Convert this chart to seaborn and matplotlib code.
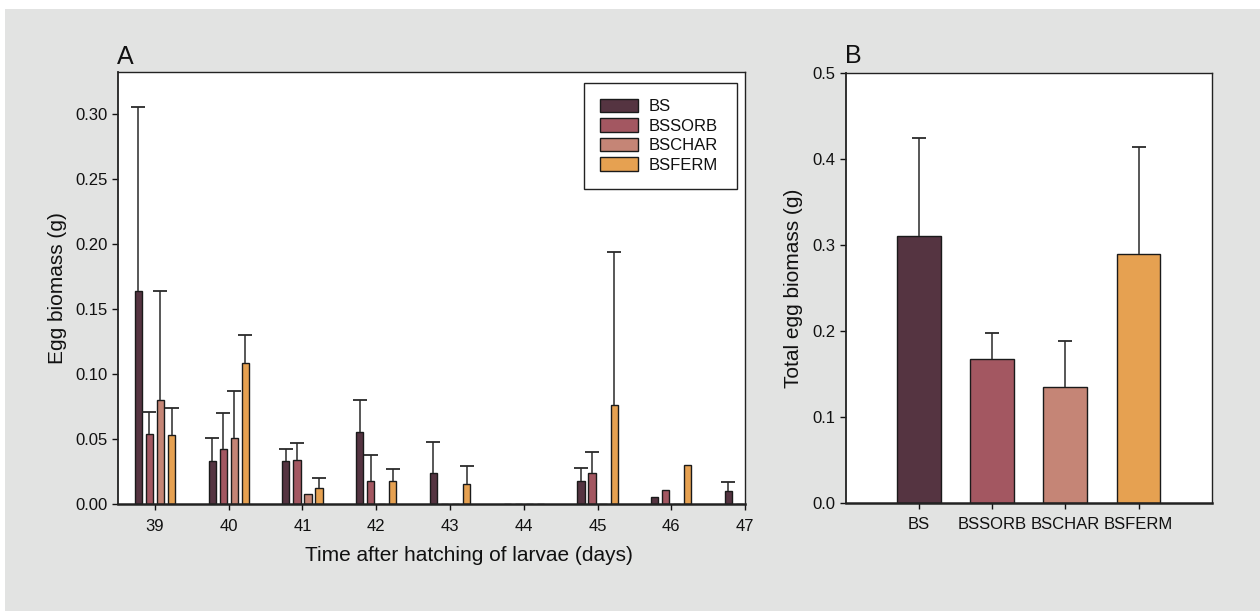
import numpy as np
import pandas as pd
import matplotlib
matplotlib.use("Agg")
import matplotlib.pyplot as plt
from matplotlib.patches import Rectangle
import seaborn as sns

nan = np.nan

# ---------------- data ----------------
treatments = ["BS", "BSSORB", "BSCHAR", "BSFERM"]
days = [39, 40, 41, 42, 43, 44, 45, 46, 47]

# Panel A: daily egg biomass (g), mean per treatment, aligned with days
bs_mean     = [0.164, 0.033, 0.033, 0.055, 0.024, 0.0, 0.018, 0.0056, 0.010]
bssorb_mean = [0.054, 0.042, 0.034, 0.018, 0.0,   0.0, 0.024, 0.011,  0.0]
bschar_mean = [0.080, 0.051, 0.008, 0.0,   0.0,   0.0, 0.0,   0.0,    0.0]
bsferm_mean = [0.053, 0.108, 0.012, 0.018, 0.015, 0.0, 0.076, 0.030,  0.0]

# Panel A: standard errors (upper whisker only); NaN = no whisker drawn
bs_se     = [0.141, 0.018, 0.009, 0.025, 0.024, nan, 0.010, nan, 0.007]
bssorb_se = [0.017, 0.028, 0.013, 0.020, nan,   nan, 0.016, nan, nan]
bschar_se = [0.084, 0.036, nan,   nan,   nan,   nan, nan,   nan, nan]
bsferm_se = [0.021, 0.022, 0.008, 0.009, 0.014, nan, 0.118, nan, nan]

# Panel B: total egg biomass (g)
total_mean = [0.311, 0.167, 0.135, 0.290]
total_se   = [0.114, 0.031, 0.053, 0.124]

colors = ["#553441", "#A35761", "#C58576", "#E6A151"]

means = [bs_mean, bssorb_mean, bschar_mean, bsferm_mean]
ses = [bs_se, bssorb_se, bschar_se, bsferm_se]

df_a = pd.DataFrame({
    "day": np.tile(days, len(treatments)),
    "treatment": np.repeat(treatments, len(days)),
    "biomass": np.concatenate(means),
})
df_b = pd.DataFrame({"treatment": treatments, "total": total_mean})

# ---------------- style ----------------
sns.set_style("ticks")
plt.rcParams["font.family"] = ["Liberation Sans", "DejaVu Sans"]
plt.rcParams["text.color"] = "#111111"
plt.rcParams["axes.labelcolor"] = "#111111"
plt.rcParams["xtick.color"] = "#111111"
plt.rcParams["ytick.color"] = "#111111"

fig = plt.figure(figsize=(12.6, 6.13), dpi=100)
fig.patch.set_facecolor("white")
fig.patches.append(Rectangle((5 / 1260, 2 / 613), 1 - 5 / 1260, 602 / 613,
                             transform=fig.transFigure, facecolor="#E2E3E2",
                             edgecolor="none", zorder=-10))

axA = fig.add_axes([0.0937, 0.1778, 0.4976, 0.7047])
axB = fig.add_axes([0.6712, 0.1800, 0.2905, 0.7004])

edge = "#1a1a1a"
width_a = 0.6
n = len(treatments)
lab_fs = 15
tick_fs = 12

# ---------------- panel A ----------------
sns.barplot(data=df_a, x="day", y="biomass", hue="treatment", hue_order=treatments,
            palette=colors, saturation=1, native_scale=True, width=width_a, gap=0.35,
            errorbar=None, edgecolor=edge, linewidth=1.0, ax=axA, legend=True,
            zorder=2)

for k, (m, s) in enumerate(zip(means, ses)):
    m = np.asarray(m, float)
    s = np.asarray(s, float)
    ok = ~np.isnan(s)
    xk = np.asarray(days, float) + (k - (n - 1) / 2) * width_a / n
    eb = axA.errorbar(xk[ok], m[ok], yerr=[np.zeros(ok.sum()), s[ok]], fmt="none",
                      ecolor="#2a2a2a", elinewidth=1.1, capsize=4.7, capthick=1.3,
                      zorder=3)
    eb[1][0].set_visible(False)

axA.set_xlim(38.5, 47)
axA.set_ylim(0, 0.332)
axA.set_xticks(days)
axA.set_xticklabels([str(d) for d in days])
axA.set_yticks(np.arange(0, 0.301, 0.05))
axA.set_yticklabels([f"{v:.2f}" for v in np.arange(0, 0.301, 0.05)])
axA.set_xlabel("Time after hatching of larvae (days)", fontsize=lab_fs)
axA.set_ylabel("Egg biomass (g)", fontsize=lab_fs)
axA.xaxis.set_label_coords(0.56, -0.097)
axA.yaxis.set_label_coords(-0.082, 0.5)

leg = axA.get_legend()
handles = leg.legend_handles
labels = [t.get_text() for t in leg.get_texts()]
leg.remove()
axA.legend(handles, labels, loc="upper right", mode="expand",
           bbox_to_anchor=(0.7432, 0.5, 0.244, 0.4745), borderaxespad=0,
           fontsize=tick_fs, frameon=True, fancybox=False, edgecolor="#222222",
           framealpha=1, handlelength=2.28, handleheight=0.84, handletextpad=0.66,
           labelspacing=0.25, borderpad=0.95)
axA.get_legend().get_frame().set_linewidth(1.0)

# ---------------- panel B ----------------
sns.barplot(data=df_b, x="treatment", y="total", hue="treatment", order=treatments,
            hue_order=treatments, palette=colors, saturation=1, width=0.6,
            errorbar=None, edgecolor=edge, linewidth=1.0, ax=axB, legend=False,
            zorder=2)
xb = np.arange(len(treatments))
eb = axB.errorbar(xb, total_mean, yerr=[np.zeros(len(xb)), total_se], fmt="none",
                  ecolor="#2a2a2a", elinewidth=1.1, capsize=4.7, capthick=1.3, zorder=3)
eb[1][0].set_visible(False)
axB.set_xlim(-1, 4)
axB.set_ylim(0, 0.5)
axB.set_yticks(np.arange(0, 0.51, 0.1))
axB.set_yticklabels([f"{v:.1f}" for v in np.arange(0, 0.51, 0.1)])
axB.set_xlabel("")
axB.set_ylabel("Total egg biomass (g)", fontsize=lab_fs)
axB.yaxis.set_label_coords(-0.118, 0.5)

for ax in (axA, axB):
    ax.set_facecolor("white")
    for side in ("top", "right", "left", "bottom"):
        ax.spines[side].set_visible(True)
        ax.spines[side].set_color("#222222")
        ax.spines[side].set_linewidth(1.0)
    ax.spines["bottom"].set_linewidth(1.8)
    ax.spines["left"].set_linewidth(1.3)
    ax.tick_params(axis="both", direction="out", length=4.5, width=1.0,
                   labelsize=tick_fs, pad=3)
    ax.tick_params(axis="x", pad=6)

fig.text(117 / 1260, 1 - 64 / 613, "A", fontsize=18, ha="left", va="baseline")
fig.text(845 / 1260, 1 - 63 / 613, "B", fontsize=18, ha="left", va="baseline")

fig.savefig("out.png", dpi=100)
